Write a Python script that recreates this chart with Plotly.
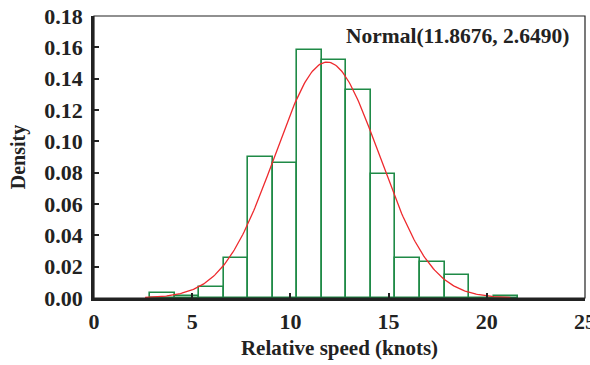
import numpy as np
import plotly.graph_objects as go

# Histogram data (bin centres, densities)
bin_centers = [3.475, 4.725, 5.975, 7.225, 8.475, 9.725, 10.975, 12.225,
               13.475, 14.725, 15.975, 17.225, 18.475, 19.725, 20.975]
bin_width = 1.25
densities = [0.0035, 0.0015, 0.0072, 0.0257, 0.0898, 0.0860, 0.1580, 0.1520,
             0.1330, 0.0790, 0.0257, 0.0228, 0.0147, 0.0000, 0.0015]

# Fitted normal distribution parameters
mu = 11.8676
sigma = 2.6490
curve_range = [2.6, 21.2]

x_ticks = [0, 5, 10, 15, 20, 25]
y_ticks = [0.00, 0.02, 0.04, 0.06, 0.08, 0.10, 0.12, 0.14, 0.16, 0.18]

green = "#1f8a47"
red = "#ee2a2e"
font_family = "Liberation Serif, Times New Roman, serif"

xc = np.linspace(curve_range[0], curve_range[1], 300)
yc = np.exp(-0.5 * ((xc - mu) / sigma) ** 2) / (sigma * np.sqrt(2 * np.pi))

fig = go.Figure()
fig.add_trace(go.Bar(
    x=bin_centers, y=densities, width=bin_width,
    marker=dict(color="rgba(0,0,0,0)", line=dict(color=green, width=1.6)),
    showlegend=False,
))
fig.add_trace(go.Scatter(
    x=xc, y=yc, mode="lines", line=dict(color=red, width=1.3),
    showlegend=False,
))

# thin top/right frame
fig.add_shape(type="rect", xref="paper", yref="paper", x0=0, y0=0, x1=1, y1=1,
              line=dict(color="#222", width=1.2), layer="above")

fig.add_annotation(
    text="<b>Normal(11.8676, 2.6490)</b>", xref="paper", yref="paper",
    x=0.972, y=0.93, xanchor="right", yanchor="middle", showarrow=False,
    font=dict(family=font_family, size=21.5, color="#222"),
)

fig.update_layout(
    width=590, height=365,
    margin=dict(l=94, r=5, t=16, b=67, autoexpand=False),
    plot_bgcolor="white", paper_bgcolor="white",
    bargap=0,
    font=dict(family=font_family, size=22, color="#222"),
    xaxis=dict(
        range=[0, 25], tickvals=x_ticks, ticktext=[f"<b>{t}</b>" for t in x_ticks],
        showgrid=False, zeroline=False, showline=True, linecolor="#222", linewidth=2.5,
        ticks="inside", ticklen=5, tickwidth=1.5, tickcolor="#222",
        ticklabeloverflow="allow", ticklabelstandoff=2, automargin=False,
        title=dict(text="<b>Relative speed (knots)</b>", font=dict(size=21), standoff=8),
    ),
    yaxis=dict(
        range=[0, 0.18], tickvals=y_ticks, ticktext=[f"<b>{t:.2f}</b>" for t in y_ticks],
        showgrid=False, zeroline=False, showline=True, linecolor="#222", linewidth=2.5,
        ticks="inside", ticklen=5, tickwidth=1.5, tickcolor="#222",
        ticklabelstandoff=4, automargin=False,
        title=dict(text="<b>Density</b>", font=dict(size=20), standoff=14),
    ),
)

fig.write_html("out.html")
